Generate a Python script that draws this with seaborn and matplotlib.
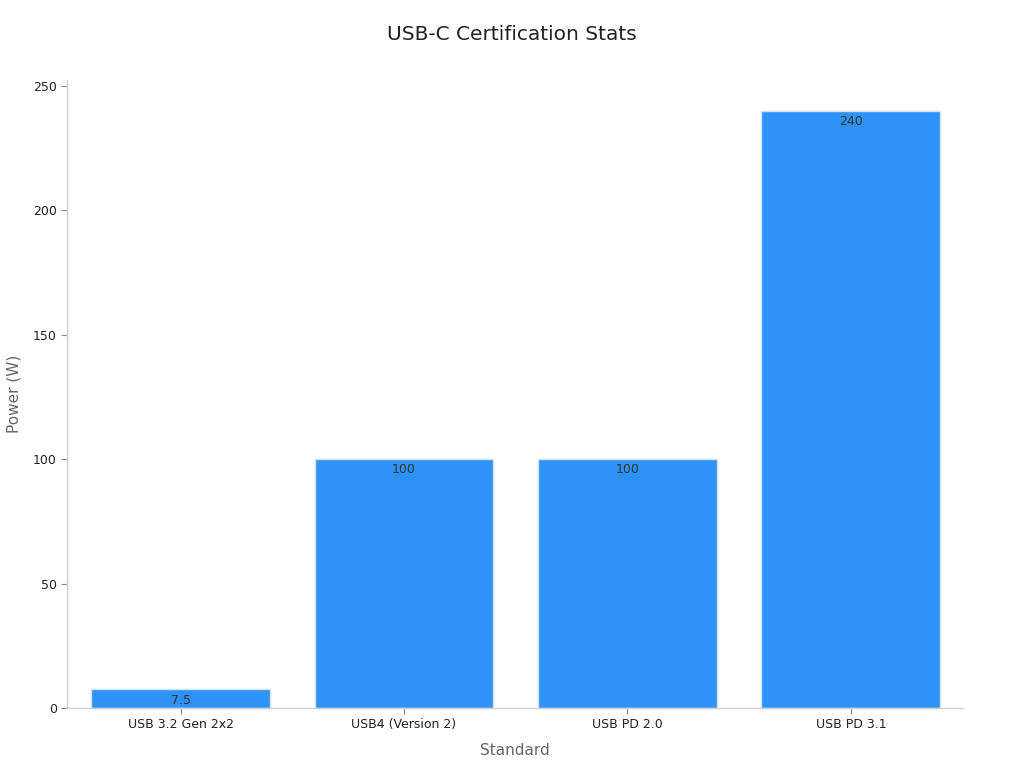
import pandas as pd
import matplotlib
matplotlib.use('Agg')
import matplotlib.pyplot as plt
import seaborn as sns

# DATA ----------------------------------------------
standards = ['USB 3.2 Gen 2x2', 'USB4 (Version 2)', 'USB PD 2.0', 'USB PD 3.1']
power_w = [7.5, 100, 100, 240]
value_labels = ['7.5', '100', '100', '240']

df = pd.DataFrame({'Standard': standards, 'Power (W)': power_w})

sns.set_theme(style='white')
plt.rcParams['font.family'] = ['DejaVu Sans']

fig = plt.figure(figsize=(10.24, 7.68), dpi=100)
ax = fig.add_axes([0.065, 0.078, 0.875, 0.818])

sns.barplot(data=df, x='Standard', y='Power (W)', color='#2E93F8', saturation=1,
            width=0.8, edgecolor='#cfe3f7', linewidth=1, ax=ax)

# value labels just inside top of bars
for i, (v, lab) in enumerate(zip(power_w, value_labels)):
    ax.annotate(lab, (i, v), xytext=(0, -3), textcoords='offset points',
                ha='center', va='top', fontsize=9, color='#333333')

ax.set_xlim(-0.51, 3.50)
ax.set_ylim(0, 252.5)
ax.set_yticks([0, 50, 100, 150, 200, 250])

fig.suptitle('USB-C Certification Stats', fontsize=14.5, color='#222222', x=0.5, y=0.968, va='top')
ax.set_xlabel('Standard', fontsize=11, color='#666666', labelpad=9)
ax.set_ylabel('Power (W)', fontsize=11, color='#666666', labelpad=8)

ax.tick_params(axis='both', labelsize=9, labelcolor='#222222', length=4, width=0.8,
               color='#888888', bottom=True, left=True, pad=3)
sns.despine(ax=ax)
for s in ['left', 'bottom']:
    ax.spines[s].set_color('#d0d0d0')
    ax.spines[s].set_linewidth(1)

fig.savefig('out.png', dpi=100)
